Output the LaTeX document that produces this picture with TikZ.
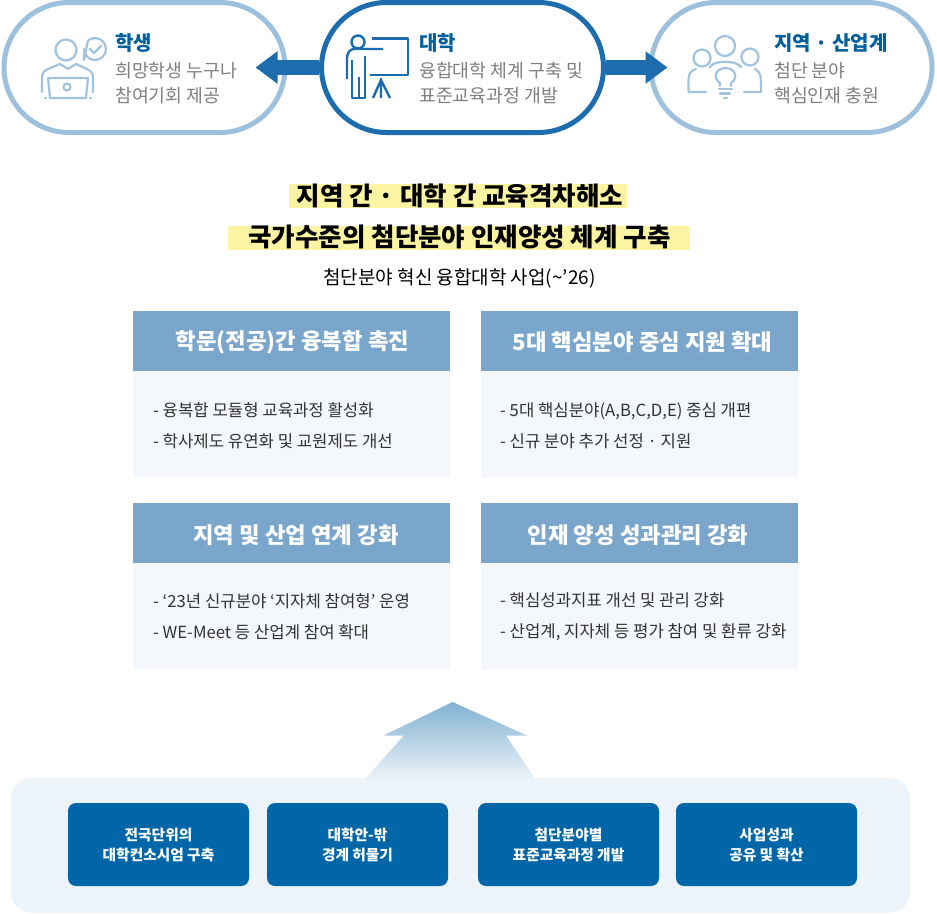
\documentclass[tikz,border=0pt]{standalone}
\usepackage{fontspec}
\setmainfont{Noto Sans CJK KR}
\usetikzlibrary{arrows.meta}
\definecolor{pillLight}{HTML}{9DC0DC}
\definecolor{pillDark}{HTML}{1C6CAE}
\definecolor{headTxt}{HTML}{00609C}
\definecolor{greyTxt}{HTML}{808080}
\definecolor{iconLight}{HTML}{A2C3DE}
\definecolor{hilite}{HTML}{FBF5A3}
\definecolor{cardHead}{HTML}{7BA6CC}
\definecolor{cardBody}{HTML}{F4F7FB}
\definecolor{panelBg}{HTML}{EDF4F9}
\definecolor{boxBlue}{HTML}{0066A8}
\definecolor{arrowTop}{HTML}{82B1D2}
\tikzset{
  pill/.style={draw,line width=5pt,rounded corners=65pt,minimum height=130pt,inner sep=0pt,fill=white},
  blockarrow/.style={pillDark,line width=15pt,-{Triangle[length=22pt,width=31pt]}},
  headtext/.style={anchor=west,inner sep=0pt,text=headTxt,font=\fontsize{20}{20}\selectfont\bfseries},
  greytext/.style={anchor=west,inner sep=0pt,text=greyTxt,align=left,font=\fontsize{18.3}{24.5}\selectfont},
  hl/.style={fill=hilite,inner sep=0pt,minimum height=24pt},
  bigtext/.style={inner sep=0pt,text=black,font=\fontsize{25.5}{25.5}\selectfont\bfseries},
  cardhead/.style={fill=cardHead,inner sep=0pt,minimum height=60pt,minimum width=317pt},
  cardbody/.style={fill=cardBody,inner sep=0pt,minimum height=106pt,minimum width=317pt},
  cardtitle/.style={inner sep=0pt,text=white,font=\fontsize{22.3}{22.3}\selectfont\bfseries},
  cardtext/.style={anchor=west,inner sep=0pt,text=black!80,align=left,font=\fontsize{16.7}{31}\selectfont},
  bluebox/.style={fill=boxBlue,rounded corners=8pt,minimum width=181pt,minimum height=83pt,inner sep=0pt,text=white,align=center,font=\fontsize{14.7}{20}\selectfont\bfseries},
  iconL/.style={draw=iconLight,line width=2.2pt,line cap=round,line join=round},
  iconD/.style={draw=pillDark,line width=2.4pt,line join=round}
}
\begin{document}
\begin{tikzpicture}[x=1pt,y=-1pt]
\useasboundingbox (0,0) rectangle (937,913);
% top pills
\node[pill,draw=pillLight,minimum width=281pt] (stu) at (144.5,67.5) {};
\node[pill,draw=pillDark,minimum width=282pt] (uni) at (462.5,67.5) {};
\node[pill,draw=pillLight,minimum width=281pt] (reg) at (791.5,67.5) {};
\draw[blockarrow] (uni.west) -- ([xshift=-32pt]stu.east);
\draw[blockarrow] (uni.east) -- ([xshift=19pt]reg.west);
% student icon
\draw[iconL] (66,50) circle (10.5);
\draw[iconL] (42,92) -- (42,78) .. controls (42,73) and (44,71) .. (48,69) -- (60,64) -- (68,69) -- (76,64) -- (87,69) .. controls (91,71) and (93,73) .. (93,78) -- (93,92);
\draw[iconL] (48,78) -- (88,78) -- (86,98) -- (50,98) -- cycle;
\draw[iconL] (67,87) circle (3.5);
\draw[iconL] (45,98) -- (46,98) (90,98) -- (91,98);
\draw[iconL] (84,60) -- (84,49) arc (180:-130:11) -- cycle;
\draw[iconL] (90,49) -- (94,53) -- (101,46);
% teacher icon
\draw[iconD] (358,42) circle (6.5);
\draw[iconD] (372,38.5) -- (408,38.5) -- (408,75) -- (370,75);
\draw[iconD] (383,49) -- (354,49) .. controls (350,49) and (347,53) .. (347,58) -- (347,79);
\draw[iconD] (365,56) -- (365,98) -- (352,98) -- (352,60);
\draw[iconD] (359,77) -- (359,98);
\draw[iconD] (381,78) -- (381,98) (381,80) -- (373,98) (381,80) -- (390,98);
% region icon
\draw[iconL] (725,46) circle (10);
\draw[iconL] (702,58) circle (8.5);
\draw[iconL] (750,57) circle (8.5);
\draw[iconL] (710,67) .. controls (713,60) and (737,60) .. (741,67);
\draw[iconL] (706,92) -- (688.5,92) -- (688.5,80) .. controls (688.5,73) and (692,70) .. (696,69);
\draw[iconL] (744,92) -- (761,92) -- (761,80) .. controls (761,73) and (757,70) .. (755,69);
\draw[iconL] (720,86) -- (720,83) .. controls (712,78) and (716,68) .. (725.5,68) .. controls (735,68) and (739,78) .. (731,83) -- (731,86);
\draw[iconL] (719,89) -- (732,89) (720,93.5) -- (730,93.5) (724,98) -- (727,98);
% top texts
\node[headtext] (t1) at (115,43) {학생};
\node[greytext] (g1) at (115,83) {희망학생 누구나\\참여기회 제공};
\node[headtext] (t2) at (419,43) {대학};
\node[greytext] (g2) at (419,83) {융합대학 체계 구축 및\\표준교육과정 개발};
\node[headtext] (t3) at (774,43) {지역 · 산업계};
\node[greytext] (g3) at (774,83) {첨단 분야\\핵심인재 충원};
% headline
\node[hl,minimum width=338pt] (h1) at (458,196) {};
\node[hl,minimum width=462pt] (h2) at (459,238) {};
\node[bigtext] (b1) at (460,195.5) {지역 간 · 대학 간 교육격차해소};
\node[bigtext] (b2) at (459.5,236.5) {국가수준의 첨단분야 인재양성 체계 구축};
\node[inner sep=0pt,font=\fontsize{19}{19}\selectfont] (sub) at (459.5,278) {첨단분야 혁신 융합대학 사업(\textasciitilde’26)};
% cards
\node[cardhead] (c1) at (291.5,341) {};
\node[cardbody] (c1b) at (291.5,424) {};
\node[cardhead] (c2) at (639,341) {};
\node[cardbody] (c2b) at (639,424) {};
\node[cardhead] (c3) at (291.5,533) {};
\node[cardbody] (c3b) at (291.5,616) {};
\node[cardhead] (c4) at (639,533) {};
\node[cardbody] (c4b) at (639,616) {};
\node[cardtitle] at (292.5,342) {학문(전공)간 융복합 촉진};
\node[cardtitle] at (642.5,342) {5대 핵심분야 중심 지원 확대};
\node[cardtitle] at (296,535) {지역 및 산업 연계 강화};
\node[cardtitle] at (638,535) {인재 양성 성과관리 강화};
\node[cardtext] at (153,426) {- 융복합 모듈형 교육과정 활성화\\- 학사제도 유연화 및 교원제도 개선};
\node[cardtext] at (500,426) {- 5대 핵심분야(A,B,C,D,E) 중심 개편\\- 신규 분야 추가 선정 · 지원};
\node[cardtext] at (153,617) {- ‘23년 신규분야 ‘지자체 참여형’ 운영\\- WE-Meet 등 산업계 참여 확대};
\node[cardtext] at (500,617) {- 핵심성과지표 개선 및 관리 강화\\- 산업계, 지자체 등 평가 참여 및 환류 강화};
% bottom panel
\fill[panelBg,rounded corners=20pt] (11,778) rectangle (910,912.5);
\shade[top color=arrowTop,bottom color=panelBg] (452.5,702) -- (527,735.5) -- (506,735.5) -- (536,780) -- (364,780) -- (404,735.5) -- (383.5,735.5) -- cycle;
\node[bluebox] (p1) at (158.5,844.5) {전국단위의\\대학컨소시엄 구축};
\node[bluebox] (p2) at (357.5,844.5) {대학안-밖\\경계 허물기};
\node[bluebox] (p3) at (568.5,844.5) {첨단분야별\\표준교육과정 개발};
\node[bluebox] (p4) at (766.5,844.5) {사업성과\\공유 및 확산};
\end{tikzpicture}
\end{document}
